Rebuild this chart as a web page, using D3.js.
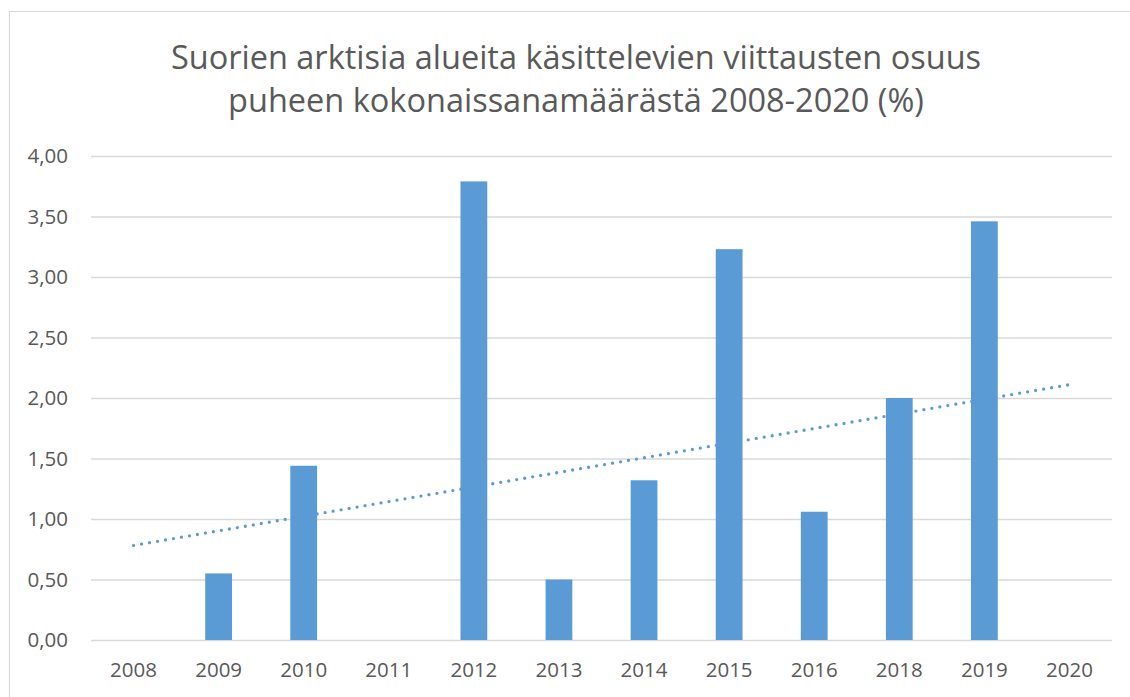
<!DOCTYPE html>
<html lang="fi">
<head>
    <meta charset="utf-8">
    <title>Arktiset viittaukset</title>
    <script src="https://d3js.org/d3.v7.min.js"></script>
    <style>
        body { margin: 0; background: #fff; }
        .title { font-family: "Open Sans", sans-serif; fill: #595959; text-anchor: middle; }
        .tick text { font-family: "Open Sans", sans-serif; fill: #595959; }
    </style>
</head>
<body>
<div id="chart"></div>
<script>
    const years = ["2008", "2009", "2010", "2011", "2012", "2013", "2014", "2015", "2016", "2018", "2019", "2020"];
    const shares = [0, 0.55, 1.44, 0, 3.79, 0.50, 1.32, 3.23, 1.06, 2.00, 3.46, 0];
    const yTicks = [0, 0.5, 1, 1.5, 2, 2.5, 3, 3.5, 4];
    const titleLines = ["Suorien arktisia alueita käsittelevien viittausten osuus",
        "puheen kokonaissanamäärästä 2008-2020 (%)"];

    const w = 1130, h = 697;
    const plotL = 91, plotR = 1112, plotT = 156, plotB = 640;

    const svg = d3.select("#chart").append("svg")
        .attr("width", w).attr("height", h);

    // chart frame
    svg.append("rect")
        .attr("x", 9.5).attr("y", 11.5)
        .attr("width", 1130).attr("height", 700)
        .attr("fill", "#fff").attr("stroke", "#d9d9d9");

    // title
    const title = svg.append("g");
    title.selectAll("text")
        .data(titleLines)
        .enter()
        .append("text")
        .attr("class", "title")
        .attr("x", 576)
        .attr("y", (d, i) => 69 + i * 43)
        .style("font-size", "32.5px")
        .text(d => d);

    const x = d3.scaleBand().domain(years).range([plotL, plotR]).paddingInner(0.685).paddingOuter(0.3425);
    const y = d3.scaleLinear().domain([0, 4]).range([plotB, plotT]);

    // grid + y labels
    const yAxis = svg.append("g")
        .attr("transform", "translate(" + plotL + ",0)")
        .call(d3.axisLeft(y).tickValues(yTicks).tickSize(-(plotR - plotL)).tickPadding(23)
            .tickFormat(d => d3.format(".2f")(d).replace(".", ",")));
    yAxis.select(".domain").remove();
    yAxis.selectAll(".tick line").attr("stroke", "#d9d9d9").attr("stroke-width", 1.3);
    yAxis.selectAll(".tick text").style("font-size", "20.5px");

    // bars
    svg.append("g").selectAll("rect")
        .data(shares)
        .enter()
        .append("rect")
        .attr("x", (d, i) => x(years[i]))
        .attr("width", x.bandwidth())
        .attr("y", d => y(d))
        .attr("height", d => plotB - y(d))
        .attr("fill", "#5b9bd5");

    // x labels
    const xAxis = svg.append("g")
        .attr("transform", "translate(0," + plotB + ")")
        .call(d3.axisBottom(x).tickSize(0).tickPadding(22));
    xAxis.select(".domain").remove();
    xAxis.selectAll(".tick text").style("font-size", "20.5px");

    // linear trendline (least squares over category index)
    const n = shares.length;
    const mx = (n - 1) / 2, my = d3.mean(shares);
    const slope = d3.sum(shares, (v, i) => (i - mx) * (v - my)) / d3.sum(shares, (v, i) => (i - mx) * (i - mx));
    const trend = [0, n - 1].map(i => [x(years[i]) + x.bandwidth() / 2, y(my + slope * (i - mx))]);
    svg.append("path")
        .attr("d", d3.line()(trend))
        .attr("fill", "none")
        .attr("stroke", "#5b9bd5")
        .attr("stroke-width", 3.3)
        .attr("stroke-linecap", "round")
        .attr("stroke-dasharray", "0 8.1");
</script>
</body>
</html>
